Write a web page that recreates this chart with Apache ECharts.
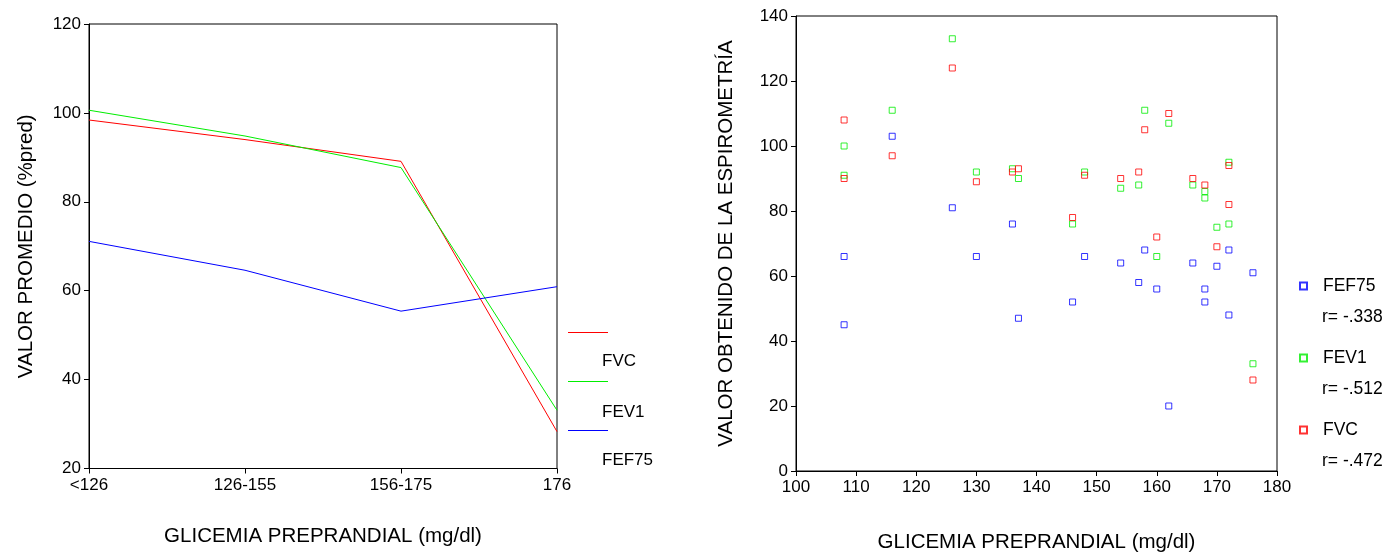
<!DOCTYPE html>
<html><head><meta charset="utf-8">
<script src="https://cdn.jsdelivr.net/npm/echarts@6/dist/echarts.min.js"></script>
<style>html,body{margin:0;padding:0;background:#fff}#c{width:1385px;height:553px}</style>
</head><body><div id="c"></div>
<script>
// Left chart: mean values by glycemia group
const groups = ['<126', '126-155', '156-175', '176'];
const fvcMean = [98.4, 94.0, 89.1, 28.3];
const fev1Mean = [100.6, 94.8, 87.7, 33.1];
const fef75Mean = [71.1, 64.6, 55.4, 60.9];
const leftYTicks = [20, 40, 60, 80, 100, 120];

// Right chart: individual values [glycemia, value]
const fef75Pts = [[108,66],[108,45],[116,103],[126,81],[130,66],[136,76],[137,47],[146,52],[148,66],[154,64],[157,58],[158,68],[160,56],[162,20],[166,64],[168,56],[168,52],[170,63],[172,68],[172,48],[176,61]];
const fev1Pts = [[108,100],[108,91],[116,111],[126,133],[130,92],[136,93],[137,90],[146,76],[148,92],[154,87],[157,88],[158,111],[160,66],[162,107],[166,88],[168,86],[168,84],[170,75],[172,95],[172,76],[176,33]];
const fvcPts = [[108,108],[108,90],[116,97],[126,124],[130,89],[136,92],[137,93],[146,78],[148,91],[154,90],[157,92],[158,105],[160,72],[162,110],[166,90],[168,88],[170,69],[172,94],[172,82],[176,28]];
const rValues = ['r= -.338', 'r= -.512', 'r= -.472'];

const RED = '#ff0000', GREEN = '#00ee00', BLUE = '#0000ff';
const FONT = 'Liberation Sans, Arial, sans-serif';
const chart = echarts.init(document.getElementById('c'));

const axisLine = {show: true, lineStyle: {color: '#000', width: 1}};
const tick = {show: true, inside: false, length: 5, lineStyle: {color: '#000'}};
const lbl = {color: '#000', fontSize: 17, fontFamily: FONT};
const nameStyle = {color: '#000', fontSize: 20.5, fontFamily: FONT};

chart.setOption({
  animation: false,
  backgroundColor: '#fff',
  textStyle: {fontFamily: FONT},
  grid: [
    {left: 89, top: 24, width: 468, height: 444.5, outerBoundsMode: 'none', containLabel: false,
     show: true, borderColor: '#000', borderWidth: 1, backgroundColor: 'transparent'},
    {left: 796, top: 16, width: 481, height: 455, outerBoundsMode: 'none', containLabel: false,
     show: true, borderColor: '#000', borderWidth: 1, backgroundColor: 'transparent'}
  ],
  xAxis: [
    {gridIndex: 0, type: 'category', data: groups, boundaryGap: false,
     axisLine, axisTick: tick, axisLabel: Object.assign({margin: 8}, lbl),
     name: 'GLICEMIA PREPRANDIAL (mg/dl)', nameLocation: 'middle', nameGap: 57, nameTextStyle: nameStyle,
     splitLine: {show: false}},
    {gridIndex: 1, type: 'value', min: 100, max: 180, interval: 10,
     axisLine, axisTick: tick, axisLabel: Object.assign({margin: 8}, lbl),
     name: 'GLICEMIA PREPRANDIAL (mg/dl)', nameLocation: 'middle', nameGap: 61, nameTextStyle: nameStyle,
     splitLine: {show: false}}
  ],
  yAxis: [
    {gridIndex: 0, type: 'value', min: leftYTicks[0], max: leftYTicks[leftYTicks.length-1], interval: 20,
     axisLine, axisTick: tick, axisLabel: Object.assign({margin: 8}, lbl),
     name: 'VALOR PROMEDIO (%pred)', nameLocation: 'middle', nameGap: 52, nameTextStyle: nameStyle,
     splitLine: {show: false}},
    {gridIndex: 1, type: 'value', min: 0, max: 140, interval: 20,
     axisLine, axisTick: tick, axisLabel: Object.assign({margin: 8}, lbl),
     name: 'VALOR OBTENIDO DE LA ESPIROMETRÍA', nameLocation: 'middle', nameGap: 59, nameTextStyle: nameStyle,
     splitLine: {show: false}}
  ],
  legend: [{
    orient: 'vertical', left: 1294, top: 272, itemGap: 54, itemWidth: 7, itemHeight: 7,
    textStyle: {color: '#000', fontSize: 17.5, fontFamily: FONT, padding: [0, 0, 0, 11]},
    data: [
      {name: 'FEF75', icon: 'emptyRect', itemStyle: {color: BLUE, borderColor: BLUE, borderWidth: 1}},
      {name: 'FEV1', icon: 'emptyRect', itemStyle: {color: GREEN, borderColor: GREEN, borderWidth: 1}},
      {name: 'FVC', icon: 'emptyRect', itemStyle: {color: RED, borderColor: RED, borderWidth: 1}}
    ]
  }],
  series: [
    {name: 'FVC line', type: 'line', xAxisIndex: 0, yAxisIndex: 0, data: fvcMean, symbol: 'none', lineStyle: {color: RED, width: 1}},
    {name: 'FEV1 line', type: 'line', xAxisIndex: 0, yAxisIndex: 0, data: fev1Mean, symbol: 'none', lineStyle: {color: GREEN, width: 1}},
    {name: 'FEF75 line', type: 'line', xAxisIndex: 0, yAxisIndex: 0, data: fef75Mean, symbol: 'none', lineStyle: {color: BLUE, width: 1}},
    {name: 'FEF75', type: 'scatter', xAxisIndex: 1, yAxisIndex: 1, data: fef75Pts, symbol: 'rect', symbolSize: 6,
     itemStyle: {color: 'transparent', borderColor: BLUE, borderWidth: 1}},
    {name: 'FEV1', type: 'scatter', xAxisIndex: 1, yAxisIndex: 1, data: fev1Pts, symbol: 'rect', symbolSize: 6,
     itemStyle: {color: 'transparent', borderColor: GREEN, borderWidth: 1}},
    {name: 'FVC', type: 'scatter', xAxisIndex: 1, yAxisIndex: 1, data: fvcPts, symbol: 'rect', symbolSize: 6,
     itemStyle: {color: 'transparent', borderColor: RED, borderWidth: 1}}
  ],
  graphic: [
    // left legend (SPSS style: line, label below)
    {type: 'rect', shape: {x: 568, y: 332, width: 40, height: 1}, style: {fill: RED}},
    {type: 'text', x: 602, y: 361, style: {text: 'FVC', fill: '#000', font: '17px ' + FONT, verticalAlign: 'middle'}},
    {type: 'rect', shape: {x: 568, y: 381, width: 40, height: 1}, style: {fill: GREEN}},
    {type: 'text', x: 602, y: 412.5, style: {text: 'FEV1', fill: '#000', font: '17px ' + FONT, verticalAlign: 'middle'}},
    {type: 'rect', shape: {x: 568, y: 430, width: 40, height: 1}, style: {fill: BLUE}},
    {type: 'text', x: 602, y: 460, style: {text: 'FEF75', fill: '#000', font: '17px ' + FONT, verticalAlign: 'middle'}},
    // r values under right legend entries
    {type: 'text', x: 1322, y: 317, style: {text: rValues[0], fill: '#000', font: '17.5px ' + FONT, verticalAlign: 'middle'}},
    {type: 'text', x: 1322, y: 389.5, style: {text: rValues[1], fill: '#000', font: '17.5px ' + FONT, verticalAlign: 'middle'}},
    {type: 'text', x: 1322, y: 461.5, style: {text: rValues[2], fill: '#000', font: '17.5px ' + FONT, verticalAlign: 'middle'}}
  ]
});
</script></body></html>
